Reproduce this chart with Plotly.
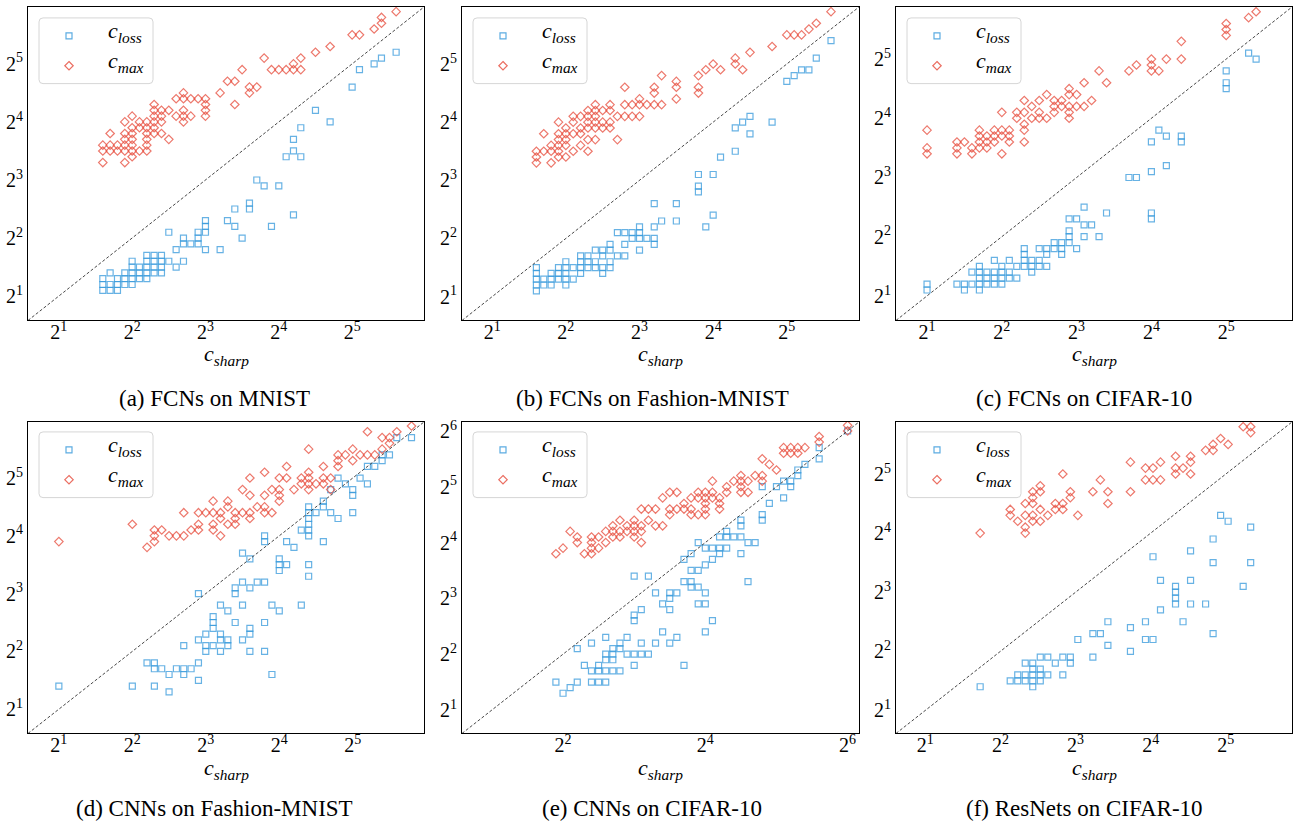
import math
import plotly.graph_objects as go

W, H = 1297, 829
L2 = math.log10(2)

# ---- data: log2 exponents; key = log2(c_sharp), values = log2(c) ----
A_MAX = {1.6: [3.3, 3.6, 3.5], 1.7: [3.8, 3.6, 3.5], 1.8: [3.6, 3.5],
         1.9: [4.0, 3.8, 3.7, 3.6, 3.5, 3.3], 2.0: [4.1, 3.9, 3.8, 3.7, 3.6, 3.5, 3.4],
         2.1: [4.0, 3.9, 3.5], 2.2: [4.0, 3.9, 3.8, 3.7, 3.6, 3.5],
         2.3: [4.3, 4.2, 4.1, 4.0, 3.9, 3.8], 2.4: [4.2, 4.1, 4.0, 3.8], 2.5: [4.2, 3.7],
         2.6: [4.4, 4.1], 2.7: [4.5, 4.4, 4.2, 4.1, 4.0], 2.8: [4.4, 4.1], 2.9: [4.4],
         3.0: [4.4, 4.3, 4.2, 4.1], 3.2: [4.5], 3.3: [4.7], 3.4: [4.7, 4.3], 3.5: [4.9],
         3.6: [4.6, 4.5], 3.7: [4.6], 3.8: [5.1], 3.9: [4.9], 4.0: [4.9], 4.1: [4.9],
         4.2: [5.0, 4.9], 4.3: [5.1, 4.9], 4.5: [5.2], 4.7: [5.3], 5.0: [5.5], 5.1: [5.5],
         5.3: [5.6], 5.4: [5.7, 5.8], 5.6: [5.9]}
A_LOSS = {1.6: [1.3, 1.2, 1.1], 1.7: [1.4, 1.2, 1.1], 1.8: [1.3, 1.2, 1.1], 1.9: [1.4, 1.3, 1.2],
          2.0: [1.6, 1.5, 1.4, 1.3, 1.2], 2.1: [1.5, 1.4, 1.3], 2.2: [1.7, 1.6, 1.5, 1.4, 1.3],
          2.3: [1.7, 1.6, 1.5, 1.4], 2.4: [1.7, 1.6, 1.5, 1.4], 2.5: [2.1, 1.6], 2.6: [1.8, 1.5],
          2.7: [2.0, 1.9, 1.6], 2.8: [1.9], 2.9: [2.1, 2.0, 1.9], 3.0: [2.3, 2.2, 2.1, 1.8],
          3.2: [1.8], 3.3: [2.3], 3.4: [2.5, 2.2], 3.5: [2.0], 3.6: [2.6, 2.5], 3.7: [3.0],
          3.8: [2.9], 3.9: [2.2], 4.0: [2.9], 4.1: [3.4], 4.2: [3.7, 3.5, 2.4], 4.3: [3.9, 3.4],
          4.5: [4.2], 4.7: [4.0], 5.0: [4.6], 5.1: [4.9], 5.3: [5.0], 5.4: [5.1], 5.6: [5.2]}

B_MAX = {1.6: [3.3, 3.4, 3.5], 1.7: [3.8, 3.5], 1.8: [3.6, 3.5, 3.3],
         1.9: [4.0, 3.8, 3.7, 3.6, 3.5, 3.4], 2.0: [3.9, 3.8, 3.7, 3.6, 3.4],
         2.1: [4.1, 4.0, 3.8, 3.5], 2.2: [4.1, 3.9, 3.8, 3.6], 2.3: [4.2, 4.1, 4.0, 3.9, 3.7, 3.5],
         2.4: [4.3, 4.2, 4.1, 4.0, 3.9, 3.7], 2.5: [4.2, 4.0, 3.9], 2.6: [4.3, 4.2, 4.0, 3.9],
         2.7: [4.1, 3.7], 2.8: [4.6, 4.3, 4.1], 2.9: [4.3, 4.1], 3.0: [4.4, 4.3, 4.1], 3.1: [4.3],
         3.2: [4.6, 4.5, 4.3], 3.3: [4.8, 4.3], 3.5: [4.7, 4.6, 4.4], 3.8: [4.8, 4.6, 4.5],
         3.9: [4.9], 4.0: [5.0], 4.1: [4.9], 4.3: [5.1, 5.0], 4.4: [4.9], 4.5: [5.2], 4.8: [5.3],
         5.0: [5.5], 5.1: [5.5], 5.2: [5.5], 5.3: [5.6], 5.4: [5.7], 5.6: [5.9]}
B_LOSS = {1.6: [1.5, 1.4, 1.3, 1.2, 1.1], 1.7: [1.3, 1.2], 1.8: [1.4, 1.3, 1.2], 1.9: [1.5, 1.4, 1.3],
          2.0: [1.6, 1.5, 1.4, 1.3, 1.2], 2.1: [1.5, 1.3], 2.2: [1.7, 1.6, 1.5, 1.4],
          2.3: [1.7, 1.6, 1.5], 2.4: [1.8, 1.6, 1.5], 2.5: [1.8, 1.7, 1.5, 1.4],
          2.6: [1.9, 1.8, 1.6, 1.5], 2.7: [2.1, 1.7], 2.8: [2.1, 1.9, 1.7], 2.9: [2.1, 2.0],
          3.0: [2.2, 2.1, 2.0, 1.8], 3.1: [2.0], 3.2: [2.6, 2.2, 2.0, 1.9], 3.3: [2.3],
          3.5: [2.6, 2.3], 3.8: [3.1, 2.9, 2.8], 3.9: [2.2], 4.0: [3.1, 2.4], 4.1: [3.4],
          4.3: [3.9, 3.5], 4.4: [4.0], 4.5: [4.1, 3.8], 4.8: [4.0], 5.0: [4.7], 5.1: [4.8],
          5.2: [4.9], 5.3: [4.9], 5.4: [5.1], 5.6: [5.4]}

C_MAX = {1.0: [3.8, 3.5, 3.4], 1.4: [3.6, 3.5, 3.4], 1.5: [3.6], 1.6: [3.5, 3.4],
         1.7: [3.8, 3.7, 3.6, 3.5], 1.8: [3.7, 3.6, 3.5], 1.9: [3.8, 3.7, 3.6],
         2.0: [4.1, 3.8, 3.7, 3.4], 2.1: [3.8, 3.7, 3.6], 2.2: [4.1, 4.0],
         2.3: [4.3, 4.1, 3.9, 3.8, 3.6], 2.4: [4.2, 4.0], 2.5: [4.3, 4.1, 4.0], 2.6: [4.4, 4.0],
         2.7: [4.3, 4.2, 4.1], 2.8: [4.3, 4.2], 2.9: [4.5, 4.4, 4.2, 4.1, 4.0], 3.0: [4.4, 4.2],
         3.1: [4.6, 4.2], 3.2: [4.3], 3.3: [4.8], 3.4: [4.6], 3.7: [4.8], 3.8: [4.9],
         4.0: [5.0, 4.9, 4.8], 4.1: [4.8], 4.2: [5.0], 4.4: [5.3, 5.0], 5.0: [5.6, 5.5, 5.4],
         5.3: [5.7], 5.4: [5.8]}
C_LOSS = {1.0: [1.2, 1.1], 1.4: [1.2], 1.5: [1.2, 1.1], 1.6: [1.4, 1.2],
          1.7: [1.5, 1.4, 1.3, 1.2, 1.1], 1.8: [1.4, 1.3, 1.2], 1.9: [1.6, 1.4, 1.3, 1.2],
          2.0: [1.5, 1.4, 1.3, 1.2], 2.1: [1.6, 1.4, 1.3], 2.2: [1.5, 1.3], 2.3: [1.8, 1.7, 1.6, 1.5],
          2.4: [1.6, 1.5, 1.4], 2.5: [1.8, 1.6, 1.5], 2.6: [1.8, 1.7, 1.5], 2.7: [1.9, 1.8],
          2.8: [1.9, 1.8, 1.7], 2.9: [2.3, 2.1, 2.0, 1.9], 3.0: [2.3, 1.8], 3.1: [2.5, 2.2, 2.0],
          3.2: [2.2], 3.3: [2.0], 3.4: [2.4], 3.7: [3.0], 3.8: [3.0], 4.0: [3.6, 3.1, 2.4, 2.3],
          4.1: [3.8], 4.2: [3.7, 3.2], 4.4: [3.7, 3.6], 5.0: [4.8, 4.6, 4.5], 5.3: [5.1], 5.4: [5.0]}

D_MAX = {1.0: [3.9], 2.0: [4.2], 2.2: [3.8], 2.3: [4.1, 4.0, 3.9], 2.4: [4.1], 2.5: [4.0],
         2.6: [4.0], 2.7: [4.4, 4.0], 2.8: [4.1], 2.9: [4.4, 4.2, 4.1], 3.0: [4.4],
         3.1: [4.6, 4.4, 4.2, 4.1], 3.2: [4.4, 4.3, 4.0], 3.3: [4.6, 4.5, 4.2], 3.4: [4.4, 4.3, 4.2],
         3.5: [4.8, 4.4], 3.6: [5.0, 4.7, 4.4, 4.3], 3.7: [4.5], 3.8: [5.1, 4.7, 4.5, 4.4],
         3.9: [4.8, 4.4], 4.0: [5.0, 4.8, 4.7, 4.6], 4.1: [5.2, 5.0], 4.2: [4.8], 4.3: [5.0, 4.9],
         4.4: [5.5, 5.1, 5.0, 4.9, 4.8], 4.5: [4.9], 4.6: [5.2, 5.0, 4.9], 4.7: [5.0, 4.8],
         4.8: [5.4, 5.3, 5.2], 4.9: [5.4], 5.0: [5.5, 5.3], 5.1: [5.4], 5.2: [5.8, 5.4], 5.3: [5.4],
         5.4: [5.7, 5.5], 5.5: [5.7, 5.6], 5.6: [5.8], 5.8: [5.9]}
D_LOSS = {1.0: [1.4], 2.0: [1.4], 2.2: [1.8], 2.3: [1.8, 1.7, 1.4], 2.4: [1.7], 2.5: [1.6, 1.3],
          2.6: [1.7], 2.7: [2.1, 1.7, 1.6], 2.8: [1.7], 2.9: [3.0, 2.2, 1.8, 1.5], 3.0: [2.3, 2.1, 2.0],
          3.1: [2.6, 2.5, 2.4, 2.1], 3.2: [2.8, 2.3, 2.2, 2.0], 3.3: [2.7, 2.2, 2.1], 3.4: [3.1, 3.0, 2.5],
          3.5: [3.7, 3.2, 2.8, 2.2], 3.6: [3.6, 3.1, 2.4, 2.3, 2.0], 3.7: [3.2],
          3.8: [4.0, 3.9, 3.2, 2.5, 2.0], 3.9: [2.8, 1.6], 4.0: [3.6, 3.5, 3.4, 2.7], 4.1: [3.9, 3.5],
          4.2: [3.8], 4.3: [4.1, 2.8], 4.4: [4.5, 4.4, 4.3, 4.2, 4.1, 4.0, 3.5, 3.3], 4.5: [4.4],
          4.6: [4.6, 4.5, 3.9], 4.7: [4.8, 4.4], 4.8: [5.0, 4.3], 4.9: [4.9], 5.0: [4.8, 4.7, 4.4],
          5.1: [5.0], 5.2: [5.2, 4.9], 5.3: [5.2], 5.4: [5.4, 5.3], 5.5: [5.4], 5.6: [5.7], 5.8: [5.7]}

E_MAX = {1.9: [3.8], 2.0: [3.9], 2.1: [4.2], 2.2: [4.1, 4.0], 2.3: [3.8], 2.4: [4.1, 4.0, 3.9, 3.8],
         2.5: [4.1, 3.9], 2.6: [4.2, 4.0], 2.7: [4.3, 4.2, 4.1], 2.8: [4.4, 4.2, 4.1], 2.9: [4.3, 4.2],
         3.0: [4.4, 4.3, 4.2, 4.1], 3.1: [4.6, 4.3, 4.2, 4.0], 3.2: [4.6, 4.4], 3.3: [4.6, 4.3],
         3.4: [4.8, 4.3], 3.5: [4.9, 4.6, 4.5], 3.6: [4.9, 4.6], 3.7: [4.7, 4.6], 3.8: [4.8, 4.6, 4.5],
         3.9: [4.9, 4.8, 4.5], 4.0: [4.9, 4.8, 4.7, 4.6, 4.5], 4.1: [5.1, 4.9, 4.8], 4.2: [4.8, 4.7, 4.6],
         4.3: [5.0, 4.9], 4.4: [5.1], 4.5: [5.2, 5.1, 5.0, 4.9], 4.6: [5.1, 4.9], 4.7: [5.2],
         4.8: [5.5, 5.2, 5.1], 4.9: [5.4], 5.0: [5.3], 5.1: [5.7, 5.6], 5.2: [5.7, 5.6], 5.3: [5.7, 5.6],
         5.4: [5.7], 5.6: [5.9, 5.8], 6.0: [6.1, 6.0]}
E_LOSS = {1.9: [1.5], 2.0: [1.3], 2.1: [1.4], 2.2: [2.1, 1.5], 2.3: [1.8], 2.4: [2.2, 1.7, 1.5],
          2.5: [1.8, 1.7, 1.5], 2.6: [2.3, 2.0, 1.9, 1.7, 1.5], 2.7: [2.1, 2.0, 1.9, 1.7],
          2.8: [2.2, 2.1, 1.7], 2.9: [2.3, 2.0], 3.0: [3.4, 2.7, 2.6, 2.0, 1.8], 3.1: [2.8, 2.2, 2.0],
          3.2: [3.4, 2.0], 3.3: [3.1, 2.2], 3.4: [2.9, 2.4], 3.5: [3.1, 3.0, 2.8, 2.2], 3.6: [3.1, 2.3],
          3.7: [3.7, 3.3, 1.8], 3.8: [3.8, 3.5, 3.3, 3.2], 3.9: [4.0, 3.5, 3.2, 2.9],
          4.0: [3.9, 3.6, 3.1, 2.9, 2.4], 4.1: [3.9, 3.7, 2.6], 4.2: [4.1, 3.9, 3.8], 4.3: [4.2, 4.1, 3.9],
          4.4: [4.1], 4.5: [4.4, 4.3, 4.1, 3.8], 4.6: [4.0, 3.3], 4.7: [4.0], 4.8: [5.0, 4.5, 4.4],
          4.9: [4.7], 5.0: [5.0], 5.1: [5.1, 4.8], 5.2: [5.1, 5.0], 5.3: [5.3, 5.2], 5.4: [5.4],
          5.6: [5.7, 5.5], 6.0: [6.0]}

F_MAX = {1.73: [4.0], 2.13: [4.4, 4.3], 2.23: [4.2], 2.33: [4.5, 4.3, 4.1, 4.0],
         2.43: [4.7, 4.6, 4.5, 4.3, 4.2], 2.53: [4.8, 4.7, 4.4, 4.2], 2.63: [4.3], 2.73: [4.5, 4.4],
         2.83: [5.0, 4.5, 4.4], 2.93: [4.7, 4.6], 3.03: [4.3], 3.23: [4.7], 3.33: [4.9], 3.43: [4.7, 4.5],
         3.73: [5.2, 4.7], 3.93: [5.1, 4.9], 4.03: [5.1, 4.9], 4.13: [5.2, 4.9], 4.33: [5.3, 5.1, 5.0],
         4.43: [5.1], 4.53: [5.3, 5.2, 5.0], 4.73: [5.4], 4.83: [5.5, 5.4], 4.93: [5.6], 5.03: [5.5],
         5.23: [5.8], 5.33: [5.8, 5.7]}
F_LOSS = {1.73: [1.4], 2.13: [1.5], 2.23: [1.6, 1.5], 2.33: [1.8, 1.6, 1.5],
          2.43: [1.8, 1.7, 1.6, 1.5, 1.4], 2.53: [1.9, 1.7, 1.6, 1.5], 2.63: [1.9, 1.6], 2.73: [1.8],
          2.83: [1.9, 1.6], 2.93: [1.9, 1.8], 3.03: [2.2], 3.23: [2.3, 1.9], 3.33: [2.3], 3.43: [2.5, 2.1],
          3.73: [2.4, 2.0], 3.93: [2.5, 2.2], 4.03: [3.6, 2.2], 4.13: [3.2, 2.7],
          4.33: [3.1, 3.0, 2.9, 2.8], 4.43: [2.5], 4.53: [3.7, 3.2, 2.8], 4.73: [2.8],
          4.83: [3.9, 3.5, 2.3], 4.93: [4.3], 5.03: [4.2], 5.23: [3.1], 5.33: [4.1, 3.5]}

CAPTIONS = ["(a) FCNs on MNIST", "(b) FCNs on Fashion-MNIST", "(c) FCNs on CIFAR-10",
            "(d) CNNs on Fashion-MNIST", "(e) CNNs on CIFAR-10", "(f) ResNets on CIFAR-10"]
SERIES_NAMES = ["<i>c</i><sub><i>loss</i></sub>", "<i>c</i><sub><i>max</i></sub>"]
XLABEL = "<i>c</i><sub><i>sharp</i></sub>"
RANGES = [(0.58, 5.98), (0.59, 5.98), (0.585, 5.88), (0.58, 5.97), (0.58, 6.16), (0.61, 5.88)]
XTICK_EXP = [[1, 2, 3, 4, 5]] * 4 + [[2, 4, 6]] + [[1, 2, 3, 4, 5]]
YTICK_EXP = [[1, 2, 3, 4, 5]] * 4 + [[1, 2, 3, 4, 5, 6]] + [[1, 2, 3, 4, 5]]
MAX_DATA = [A_MAX, B_MAX, C_MAX, D_MAX, E_MAX, F_MAX]
LOSS_DATA = [A_LOSS, B_LOSS, C_LOSS, D_LOSS, E_LOSS, F_LOSS]

# ---- layout geometry (pixels) ----
COLS = [(28, 424), (462, 859), (896, 1292)]
ROWS = [(3, 318), (420, 733)]
LEG_BOX = [(39, 153), (473, 587), (907, 1021)]   # left/right of legend frames
LEG_TOP = [14, 430]
LEG_H = 66
CAP_X = [214, 652, 1084]
CAP_Y = [396, 808]
XLAB_Y = [353, 769]

BLUE = "#3498db"
RED = "#e74c3c"
SERIF = "Liberation Serif"


def flat(d):
    xs, ys = [], []
    for k, vals in d.items():
        for v in vals:
            xs.append(2 ** k)
            ys.append(2 ** v)
    return xs, ys


def px(x):
    return x / W


def py(y):
    return 1 - y / H


def rounded_box(l, r, t, b, rad=4):
    L, R, T, B = px(l), px(r), py(t), py(b)
    rx, ry = rad / W, rad / H
    return (f"M {L+rx},{T} L {R-rx},{T} Q {R},{T} {R},{T-ry} L {R},{B+ry} "
            f"Q {R},{B} {R-rx},{B} L {L+rx},{B} Q {L},{B} {L},{B+ry} "
            f"L {L},{T-ry} Q {L},{T} {L+rx},{T} Z")


fig = go.Figure()
layout = dict(width=W, height=H, margin=dict(l=0, r=0, t=0, b=0),
              paper_bgcolor="white", plot_bgcolor="white", showlegend=False,
              annotations=[], shapes=[])

for i in range(6):
    r, c = divmod(i, 3)
    n = "" if i == 0 else str(i + 1)
    xa, ya = "x" + n, "y" + n
    lo, hi = RANGES[i]
    lx, ly = flat(LOSS_DATA[i])
    mx, my = flat(MAX_DATA[i])
    fig.add_trace(go.Scatter(x=lx, y=ly, mode="markers", xaxis=xa, yaxis=ya,
                             name=SERIES_NAMES[0],
                             marker=dict(symbol="square-open", size=6, color=BLUE,
                                         opacity=0.75, line=dict(width=1.2, color=BLUE))))
    fig.add_trace(go.Scatter(x=mx, y=my, mode="markers", xaxis=xa, yaxis=ya,
                             name=SERIES_NAMES[1],
                             marker=dict(symbol="diamond-open", size=6.5, color=RED,
                                         opacity=0.75, line=dict(width=1.2, color=RED))))
    fig.add_trace(go.Scatter(x=[2 ** lo, 2 ** hi], y=[2 ** lo, 2 ** hi], mode="lines",
                             xaxis=xa, yaxis=ya, hoverinfo="skip",
                             line=dict(color="#333333", width=0.9, dash="3px,2px")))

    x0, x1 = COLS[c]
    y0, y1 = ROWS[r]
    common = dict(type="log", range=[lo * L2, hi * L2], showgrid=False, zeroline=False,
                  showline=True, linecolor="black", linewidth=1, mirror=True, ticks="",
                  tickfont=dict(family=SERIF, size=20, color="black"))
    xt = XTICK_EXP[i]
    yt = YTICK_EXP[i]
    layout["xaxis" + n] = dict(common, domain=[px(x0), px(x1)], anchor=ya,
                               ticklabelstandoff=-6,
                               tickvals=[2 ** e for e in xt],
                               ticktext=["2<sup>%d</sup>" % e for e in xt])
    layout["yaxis" + n] = dict(common, domain=[py(y1), py(y0)], anchor=xa,
                               tickvals=[2 ** e for e in yt],
                               ticktext=["2<sup>%d</sup>" % e for e in yt])

    # legend frame with rounded corners
    bl, br = LEG_BOX[c]
    bt = LEG_TOP[r]
    layout["shapes"].append(dict(type="path", xref="paper", yref="paper",
                                 path=rounded_box(bl, br, bt, bt + LEG_H),
                                 line=dict(color="#d6d6d6", width=1), fillcolor="white",
                                 layer="above"))
    mxp = bl + 30
    # square legend glyph
    sy = bt + 18
    layout["shapes"].append(dict(type="rect", xref="paper", yref="paper",
                                 x0=px(mxp - 3), x1=px(mxp + 3), y0=py(sy + 3), y1=py(sy - 3),
                                 line=dict(color=BLUE, width=1.2), opacity=0.8, layer="above"))
    # diamond legend glyph
    dy = bt + 48
    layout["shapes"].append(dict(type="path", xref="paper", yref="paper",
                                 path=(f"M {px(mxp)},{py(dy-4.2)} L {px(mxp+4.2)},{py(dy)} "
                                       f"L {px(mxp)},{py(dy+4.2)} L {px(mxp-4.2)},{py(dy)} Z"),
                                 line=dict(color=RED, width=1.2), opacity=0.8, layer="above"))
    for k, ty in enumerate([bt + 14, bt + 44]):
        layout["annotations"].append(dict(x=px(bl + 67), y=py(ty), xref="paper", yref="paper",
                                          showarrow=False, xanchor="left", yanchor="middle",
                                          text=SERIES_NAMES[k],
                                          font=dict(family=SERIF, size=22, color="black")))

    layout["annotations"].append(dict(x=px((x0 + x1) / 2), y=py(XLAB_Y[r]), xref="paper",
                                      yref="paper", showarrow=False, xanchor="center",
                                      yanchor="middle", text=XLABEL,
                                      font=dict(family=SERIF, size=22, color="black")))
    layout["annotations"].append(dict(x=px(CAP_X[c]), y=py(CAP_Y[r]), xref="paper",
                                      yref="paper", showarrow=False, xanchor="center",
                                      yanchor="middle", text=CAPTIONS[i],
                                      font=dict(family=SERIF, size=23, color="black")))

fig.update_layout(**layout)
fig.write_html("out.html")
